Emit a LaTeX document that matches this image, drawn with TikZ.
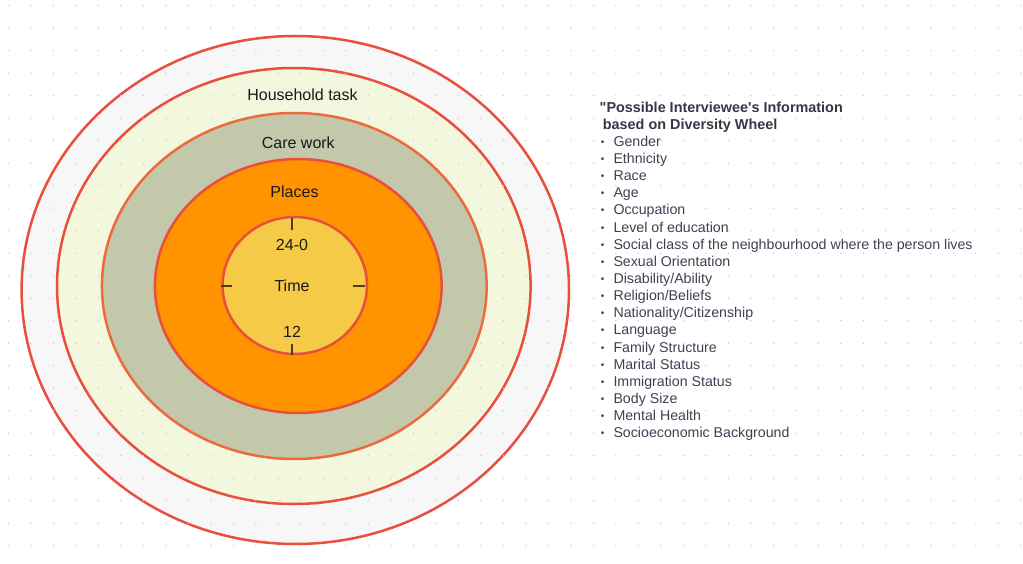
\documentclass[tikz,border=0pt]{standalone}
\usepackage{fontspec}
\setmainfont{Liberation Sans}[Ligatures=TeXOff]
\usetikzlibrary{shapes.geometric}
\definecolor{ringred}{HTML}{E94F3D}
\definecolor{ringorange}{HTML}{EC6A3C}
\definecolor{fillA}{HTML}{F7F7F7}
\definecolor{fillB}{HTML}{F3F7DD}
\definecolor{fillC}{HTML}{C4C8AB}
\definecolor{fillD}{HTML}{FF9300}
\definecolor{fillE}{HTML}{F4CA47}
\definecolor{dotgray}{HTML}{C8C8C8}
\definecolor{listtext}{HTML}{3C4252}
\definecolor{ticktone}{HTML}{4A3F1A}
\begin{document}
\begin{tikzpicture}[x=1pt,y=-1pt,
  ring/.style={ellipse, inner sep=0pt, outer sep=0pt, line width=2.5pt},
  wheellabel/.style={anchor=base, inner sep=0pt, font=\fontsize{16}{16}\selectfont, text=black!90},
  listitem/.style={anchor=base west, inner sep=0pt, font=\fontsize{14.2}{14.2}\selectfont, text=listtext},
  listbullet/.style={anchor=base, inner sep=0pt, font=\fontsize{10}{10}\selectfont, text=listtext},
  listtitle/.style={anchor=base west, inner sep=0pt, font=\fontsize{14.4}{14.4}\selectfont\bfseries, text=listtext!85!black},
  tick/.style={draw=ticktone, line width=1.2pt}]
\useasboundingbox (0,0) rectangle (1023,564);
\fill[white] (0,0) rectangle (1023,564);
% outer rings
\node[ring, draw=ringred, fill=fillA, minimum width=547.4pt, minimum height=508pt] (outer) at (295.3,290) {};
\node[ring, draw=ringred, fill=fillB, minimum width=473.6pt, minimum height=436pt] (household) at (293.8,286) {};
% dot grid
\foreach \i in {0,...,45}{
  \foreach \j in {0,...,24}{
    \fill[dotgray] (8.3+22.5*\i, 5.7+22.5*\j) circle (0.75pt);
  }
}
% inner rings
\node[ring, draw=ringorange, fill=fillC, minimum width=384.7pt, minimum height=346pt] (care) at (294.3,286) {};
\node[ring, draw=ringred, fill=fillD, minimum width=286.7pt, minimum height=254pt] (places) at (298.3,286) {};
\node[ring, draw=ringred, fill=fillE, minimum width=144.3pt, minimum height=137pt] (time) at (294.8,285.5) {};
% labels
\node[wheellabel] (lblhouse) at (302.5,101) {Household task};
\node[wheellabel] (lblcare) at (298.3,148.3) {Care work};
\node[wheellabel] (lblplaces) at (294.5,197.5) {Places};
\node[wheellabel] (lbltop) at (292,251) {24-0};
\node[wheellabel] (lbltime) at (292,291.7) {Time};
\node[wheellabel] (lblbottom) at (292,337.3) {12};
% clock ticks
\coordinate (tTopA) at (292,218);
\coordinate (tTopB) at (292,230.5);
\coordinate (tBotA) at (292,343.5);
\coordinate (tBotB) at (292,355);
\coordinate (tLeftA) at (221,286);
\coordinate (tLeftB) at (232,286);
\coordinate (tRightA) at (353.3,286);
\coordinate (tRightB) at (365,286);
\draw[tick] (tTopA) -- (tTopB);
\draw[tick] (tBotA) -- (tBotB);
\draw[tick] (tLeftA) -- (tLeftB);
\draw[tick] (tRightA) -- (tRightB);
% list
\node[listtitle] (title1) at (599.5,112.7) {"Possible Interviewee's Information};
\node[listtitle] (title2) at (602.7,129.2) {based on Diversity Wheel};
\foreach \t [count=\k from 0] in {Gender,Ethnicity,Race,Age,Occupation,Level of education,Social class of the neighbourhood where the person lives,Sexual Orientation,Disability/Ability,Religion/Beliefs,Nationality/Citizenship,Language,Family Structure,Marital Status,Immigration Status,Body Size,Mental Health,Socioeconomic Background}{
  \node[listbullet] (bullet\k) at (602.7,145.3+17.15*\k) {•};
  \node[listitem] (item\k) at (613.3,146.3+17.15*\k) {\t};
}
\end{tikzpicture}
\end{document}
